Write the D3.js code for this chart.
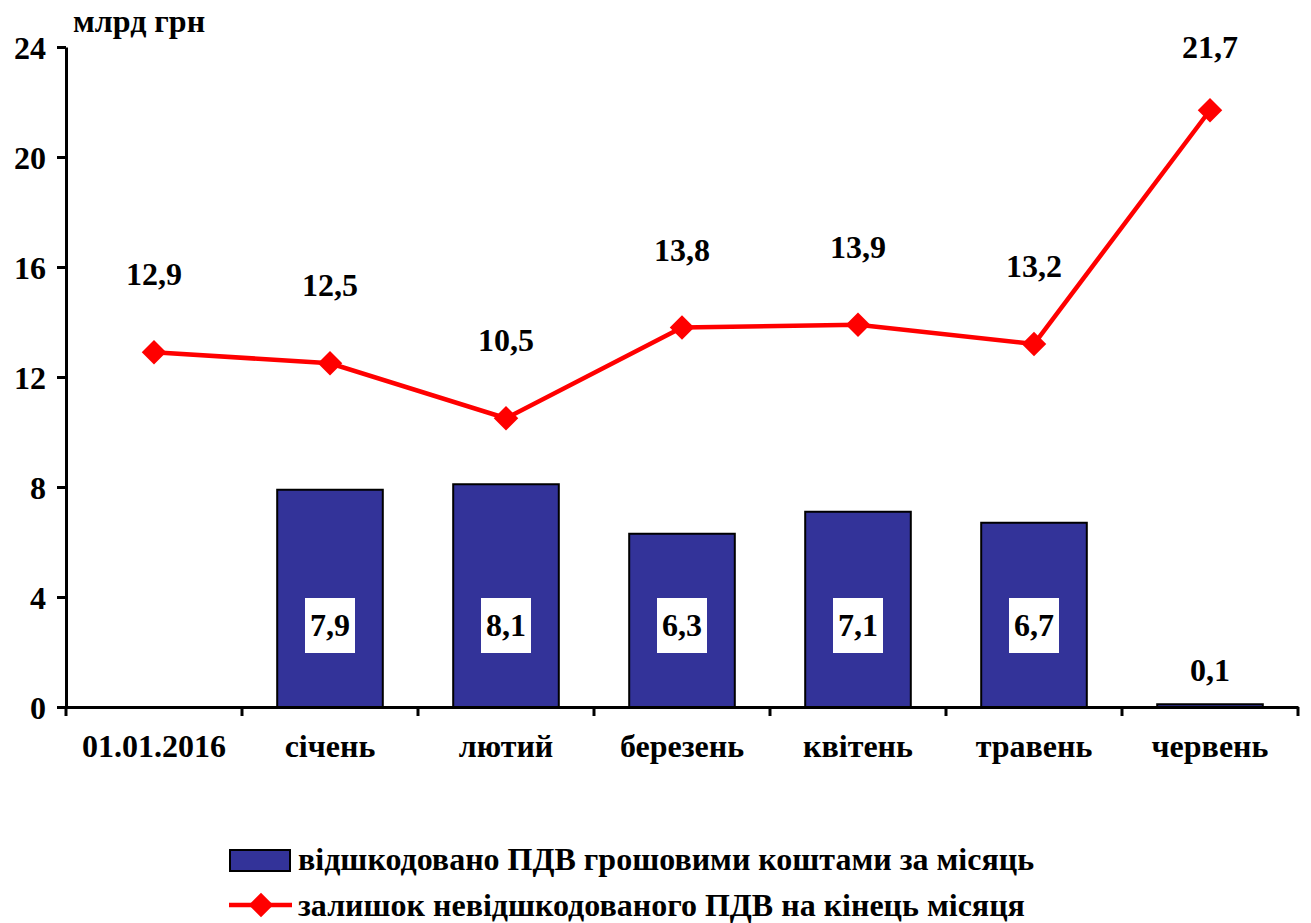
<!DOCTYPE html>
<html>
<head>
<meta charset="utf-8">
<script src="https://cdn.jsdelivr.net/npm/d3@7"></script>
<style>
  body { margin: 0; background: #fff; }
  text { font-family: "Liberation Serif", "Times New Roman", serif; font-weight: bold; fill: #000; }
</style>
</head>
<body>
<svg id="chart" width="1311" height="923"></svg>
<script>
// дані
var categories = ["01.01.2016", "січень", "лютий", "березень", "квітень", "травень", "червень"];
var refunded = [null, 7.9, 8.1, 6.3, 7.1, 6.7, 0.1];       // відшкодовано за місяць
var remainder = [12.9, 12.5, 10.5, 13.8, 13.9, 13.2, 21.7]; // залишок на кінець місяця
var yTicks = [0, 4, 8, 12, 16, 20, 24];
var legendLabels = ["відшкодовано ПДВ грошовими коштами за місяць",
                    "залишок невідшкодованого ПДВ на кінець місяця"];

(function() {
var svg = d3.select("#chart");
var mLeft = 66, mRight = 1298, mTop = 47, mBottom = 707;
var fs = 32;
var fmt = function(v) { return String(v).replace(".", ","); };

var x = d3.scaleBand().domain(categories).range([mLeft, mRight]).paddingInner(0.4).paddingOuter(0.2);
var xc = d3.scalePoint().domain(categories).range([mLeft, mRight]).padding(0.5);
var y = d3.scaleLinear().domain([0, 24]).range([mBottom, mTop]);

// бари
svg.append("g").selectAll("rect")
  .data(categories.map(function(c, i) { return {c: c, v: refunded[i]}; }).filter(function(d) { return d.v != null; }))
  .enter().append("rect")
  .attr("x", function(d) { return x(d.c); })
  .attr("y", function(d) { return y(d.v); })
  .attr("width", x.bandwidth())
  .attr("height", function(d) { return y(0) - y(d.v); })
  .attr("fill", "#333399")
  .attr("stroke", "#000")
  .attr("stroke-width", 2);

// осі
var yAxis = svg.append("g")
  .attr("transform", "translate(" + mLeft + ",0)")
  .call(d3.axisLeft(y).tickValues(yTicks).tickSize(9).tickSizeOuter(0).tickFormat(d3.format("d")));
yAxis.select(".domain").attr("stroke", "#000").attr("stroke-width", 3);
yAxis.selectAll(".tick line").attr("stroke-width", 3);
yAxis.selectAll(".tick text").attr("font-size", fs).attr("font-family", null).attr("x", -20).attr("dy", "0.35em");

var xAxis = svg.append("g")
  .attr("transform", "translate(0," + mBottom + ")")
  .call(d3.axisBottom(xc).tickValues([]).tickSizeOuter(0));
xAxis.select(".domain").attr("stroke", "#000").attr("stroke-width", 3);
// риски між категоріями
xAxis.selectAll("line.sep")
  .data(d3.range(categories.length + 1))
  .enter().append("line")
  .attr("x1", function(i) { return mLeft + i * x.step(); })
  .attr("x2", function(i) { return mLeft + i * x.step(); })
  .attr("y1", 0).attr("y2", 9)
  .attr("stroke", "#000").attr("stroke-width", 3);
xAxis.selectAll("text.cat")
  .data(categories)
  .enter().append("text")
  .attr("x", function(d) { return xc(d); })
  .attr("y", 50)
  .attr("text-anchor", "middle")
  .attr("font-size", fs)
  .text(function(d) { return d; });

svg.append("text").attr("x", 73).attr("y", 32).attr("font-size", fs).text("млрд грн");

// підписи барів
categories.forEach(function(c, i) {
  var v = refunded[i];
  if (v == null) return;
  var cx = xc(c);
  if (v < 1) {
    svg.append("text").attr("x", cx).attr("y", y(v) - 23).attr("text-anchor", "middle")
      .attr("font-size", fs).text(fmt(v));
    return;
  }
  var cy = y(0) - 82;
  svg.append("rect").attr("x", cx - 25).attr("y", cy - 27).attr("width", 50).attr("height", 55).attr("fill", "#fff");
  svg.append("text").attr("x", cx).attr("y", cy + 11).attr("text-anchor", "middle")
    .attr("font-size", fs).text(fmt(v));
});

// лінія
var line = d3.line().x(function(d, i) { return xc(categories[i]); }).y(function(d) { return y(d); });
svg.append("path").datum(remainder)
  .attr("d", line)
  .attr("fill", "none")
  .attr("stroke", "#ff0000")
  .attr("stroke-width", 4.5);

var diamond = d3.symbol().type(d3.symbolSquare).size(300);
svg.append("g").selectAll("path")
  .data(remainder)
  .enter().append("path")
  .attr("d", diamond)
  .attr("fill", "#ff0000")
  .attr("transform", function(d, i) { return "translate(" + xc(categories[i]) + "," + y(d) + ") rotate(45)"; });

svg.append("g").selectAll("text")
  .data(remainder)
  .enter().append("text")
  .attr("x", function(d, i) { return xc(categories[i]); })
  .attr("y", function(d) { return y(d) - (d > 20 ? 52 : 67); })
  .attr("text-anchor", "middle")
  .attr("font-size", fs)
  .text(fmt);

// легенда
var lg = svg.append("g");
lg.append("rect").attr("x", 230).attr("y", 850).attr("width", 60).attr("height", 21)
  .attr("fill", "#333399").attr("stroke", "#000").attr("stroke-width", 2);
lg.append("text").attr("x", 298).attr("y", 870).attr("font-size", fs).text(legendLabels[0]);
lg.append("line").attr("x1", 229).attr("x2", 292).attr("y1", 905).attr("y2", 905)
  .attr("stroke", "#ff0000").attr("stroke-width", 4.5);
lg.append("path").attr("d", diamond).attr("fill", "#ff0000")
  .attr("transform", "translate(261,905) rotate(45)");
lg.append("text").attr("x", 298).attr("y", 916).attr("font-size", fs).text(legendLabels[1]);
})();
</script>
</body>
</html>
